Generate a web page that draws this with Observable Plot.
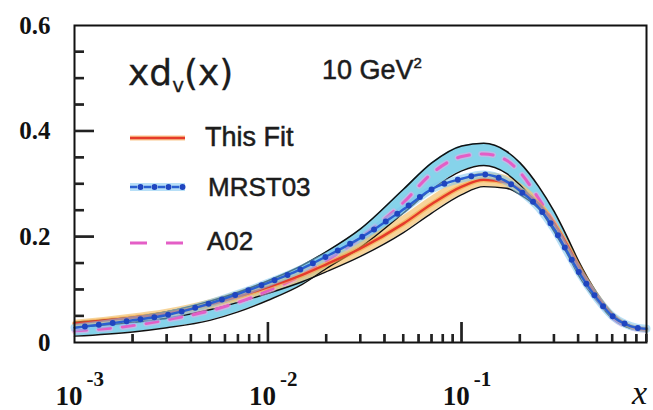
<!DOCTYPE html>
<html><head><meta charset="utf-8">
<script src="https://cdn.jsdelivr.net/npm/d3@7"></script>
<script src="https://cdn.jsdelivr.net/npm/@observablehq/plot@0.6"></script>
<style>
body{margin:0;background:#fff}
</style></head><body><div id="wrap"></div>
<script>
// x values (momentum fraction)
const xs      = [0.001,0.002,0.003,0.005,0.007,0.01,0.015,0.02,0.03,0.05,0.07,0.1,0.13,0.17,0.2,0.25,0.3,0.35,0.4,0.5,0.6,0.7,0.8,0.9];
// This Fit central curve and its band
const thisFit = [0.036,0.047,0.055,0.072,0.087,0.105,0.128,0.148,0.178,0.225,0.262,0.295,0.308,0.303,0.29,0.262,0.225,0.185,0.145,0.088,0.052,0.035,0.027,0.025];
const fitLo   = [0.028,0.038,0.046,0.062,0.076,0.093,0.115,0.134,0.163,0.208,0.245,0.280,0.295,0.292,0.280,0.253,0.217,0.177,0.138,0.082,0.047,0.031,0.024,0.022];
const fitHi   = [0.042,0.054,0.063,0.081,0.097,0.116,0.140,0.161,0.192,0.240,0.277,0.310,0.322,0.316,0.302,0.272,0.234,0.193,0.152,0.094,0.057,0.038,0.029,0.027];
// MRST03
const mrst03  = [0.028,0.042,0.052,0.074,0.092,0.113,0.140,0.163,0.198,0.252,0.290,0.310,0.318,0.305,0.287,0.255,0.215,0.172,0.135,0.083,0.050,0.035,0.028,0.026];
// A02 central curve and its band
const a02     = [0.022,0.032,0.043,0.060,0.076,0.098,0.128,0.155,0.198,0.265,0.320,0.352,0.357,0.345,0.322,0.272,0.225,0.180,0.140,0.085,0.048,0.032,0.026,0.024];
const a02Lo   = [0.012,0.020,0.028,0.042,0.058,0.080,0.110,0.140,0.180,0.245,0.290,0.325,0.335,0.320,0.298,0.255,0.210,0.168,0.128,0.078,0.045,0.030,0.024,0.022];
const a02Hi   = [0.038,0.048,0.058,0.078,0.095,0.117,0.146,0.172,0.215,0.290,0.340,0.372,0.377,0.362,0.340,0.295,0.248,0.200,0.155,0.093,0.055,0.036,0.028,0.026];
// ticks
const yLabels = [0, 0.2, 0.4, 0.6];
const yMajor  = [0.2, 0.4];
const yMinor  = [0.05,0.1,0.15,0.25,0.3,0.35,0.45,0.5,0.55];
const xDecades = [0.001, 0.01, 0.1];
const xMajor  = [0.01, 0.1];
const xMinor  = [0.002,0.003,0.004,0.005,0.006,0.007,0.008,0.009,0.02,0.03,0.04,0.05,0.06,0.07,0.08,0.09,0.2,0.3,0.4,0.5,0.6,0.7,0.8,0.9];
// legend
const legendNames = ["This Fit", "MRST03", "A02"];

const rows = xs.map((x,i)=>({x, fit:thisFit[i], fitLo:fitLo[i], fitHi:fitHi[i], mrst:mrst03[i], a02:a02[i], a02Lo:a02Lo[i], a02Hi:a02Hi[i]}));
const curve = "monotone-x";
const serif = "Liberation Serif, Times New Roman, serif";

const W = 653, H = 410, mL = 74, mR = 7, mT = 25, mB = 68;
const fw = W - mL - mR, fh = H - mT - mB;
const xDom = [0.001, 0.9], yDom = [0, 0.6];
// tick sizes expressed in data units derived from the frame size
const pxPerDecade = fw / Math.log10(xDom[1] / xDom[0]);
const xAt = px => xDom[0] * Math.pow(10, px / pxPerDecade);
const xHalf = Math.pow(10, 1 / pxPerDecade);
const yAt = px => px * (yDom[1] - yDom[0]) / fh;

const tickMarksY = (vals, len) => [
  Plot.tickY(vals, {y: d => d, insetRight: fw - len, stroke: "#222", strokeWidth: 2.2}),
  Plot.rect(vals, {x1: () => xDom[0], x2: () => xAt(len), y1: d => d - yAt(1), y2: d => d + yAt(1), fill: "#222"})
];
const tickMarksX = (vals, len) => [
  Plot.tickX(vals, {x: d => d, insetTop: fh - len, stroke: "#222", strokeWidth: 2.2}),
  Plot.rect(vals, {x1: d => d / xHalf, x2: d => d * xHalf, y1: () => yDom[0], y2: () => yAt(len), fill: "#222"})
];

const chart = Plot.plot({
  width: W, height: H,
  marginLeft: mL, marginRight: mR, marginTop: mT, marginBottom: mB,
  x: {type: "log", domain: xDom, axis: null},
  y: {domain: yDom, axis: null},
  marks: [
    Plot.areaY(rows, {x: "x", y1: "a02Lo", y2: "a02Hi", fill: "#86d3ea", curve}),
    Plot.areaY(rows, {x: "x", y1: "fitLo", y2: "fitHi", fill: "#f4c577", fillOpacity: 0.75, curve}),
    Plot.line(rows, {x: "x", y: "a02Hi", stroke: "#111", strokeWidth: 1.6, curve}),
    Plot.line(rows, {x: "x", y: "a02Lo", stroke: "#111", strokeWidth: 1.4, curve}),
    Plot.line(rows, {x: "x", y: "fitLo", stroke: "#111", strokeWidth: 1.4, curve}),
    Plot.line(rows, {x: "x", y: "a02", stroke: "#f4a6e4", strokeWidth: 6, strokeOpacity: 0.5, strokeDasharray: "12,12", curve}),
    Plot.line(rows, {x: "x", y: "a02", stroke: "#e45ec6", strokeWidth: 3, strokeDasharray: "12,12", curve}),
    Plot.line(rows, {x: "x", y: "fit", stroke: "#f5a443", strokeWidth: 5, strokeOpacity: 0.6, curve}),
    Plot.line(rows, {x: "x", y: "fit", stroke: "#e53b2a", strokeWidth: 2.4, curve}),
    Plot.line(rows, {x: "x", y: "mrst", stroke: "#7cc4f0", strokeWidth: 8, strokeOpacity: 0.55, curve}),
    Plot.line(rows, {x: "x", y: "mrst", stroke: "#2a5fd0", strokeWidth: 2.4, strokeDasharray: "7,7", curve}),
    Plot.line(rows, {x: "x", y: "mrst", stroke: "#1f45c0", strokeWidth: 6, strokeDasharray: "0,14", strokeDashoffset: 3.5, strokeLinecap: "round", curve}),
    Plot.frame({stroke: "#111", strokeWidth: 2}),
    ...tickMarksY(yMajor, 20),
    ...tickMarksY(yMinor, 10),
    ...tickMarksX(xMajor, 20),
    ...tickMarksX(xMinor, 8),
    Plot.text(yLabels, {y: d => d, frameAnchor: "left", text: d => d === 0 ? "0" : d.toFixed(1), textAnchor: "end",
      dx: -24, fontSize: 25, fontWeight: "bold", fontFamily: serif, fill: "#111"}),
    Plot.text(xDecades, {x: d => d, frameAnchor: "bottom", text: () => "10", textAnchor: "end", lineAnchor: "bottom",
      dx: 8, dy: 62, fontSize: 27, fontWeight: "bold", fontFamily: serif, fill: "#111"}),
    Plot.text(xDecades, {x: d => d, frameAnchor: "bottom", text: d => String(Math.round(Math.log10(d))), textAnchor: "start", lineAnchor: "bottom",
      dx: 12, dy: 43, fontSize: 21, fontWeight: "bold", fontFamily: serif, fill: "#111"})
  ]
});

document.getElementById("wrap").appendChild(chart);

// title, energy scale, axis name and legend placed inside the plot's own SVG
const ns = "http://www.w3.org/2000/svg";
const g = document.createElementNS(ns, "g");
g.setAttribute("text-anchor", "start");
g.innerHTML = `
<g font-family="Liberation Sans, Arial, sans-serif" fill="#1c1c1c" stroke="#1c1c1c" stroke-width="0.5">
  <text x="128" y="85" font-family="DejaVu Sans, sans-serif" font-size="36" stroke-width="0.3">xd<tspan font-size="20" dy="7">v</tspan><tspan dy="-7">(x)</tspan></text>
  <text x="322" y="79" font-size="27">10 GeV<tspan font-size="15" dy="-11">2</tspan></text>
  <text x="205" y="146" font-size="27">${legendNames[0]}</text>
  <text x="208" y="196" font-size="26">${legendNames[1]}</text>
  <text x="207" y="250" font-size="26">${legendNames[2]}</text>
</g>
<text x="647" y="404" text-anchor="end" font-family="Liberation Serif, serif" font-style="italic" font-size="34" fill="#111">x</text>
<line x1="130" x2="185" y1="138" y2="138" stroke="#f5a443" stroke-width="5" stroke-opacity="0.6"/>
<line x1="130" x2="185" y1="138" y2="138" stroke="#e53b2a" stroke-width="2.4"/>
<line x1="130" x2="185" y1="187" y2="187" stroke="#7cc4f0" stroke-width="8" stroke-opacity="0.55"/>
<line x1="130" x2="185" y1="187" y2="187" stroke="#2a5fd0" stroke-width="2.4" stroke-dasharray="7,7"/>
<line x1="130" x2="185" y1="187" y2="187" stroke="#1f45c0" stroke-width="6" stroke-dasharray="0,14" stroke-dashoffset="3.5" stroke-linecap="round"/>
<line x1="130" x2="185" y1="243" y2="243" stroke="#e45ec6" stroke-width="3" stroke-dasharray="17,19"/>
`;
chart.appendChild(g);
</script>
</body></html>
